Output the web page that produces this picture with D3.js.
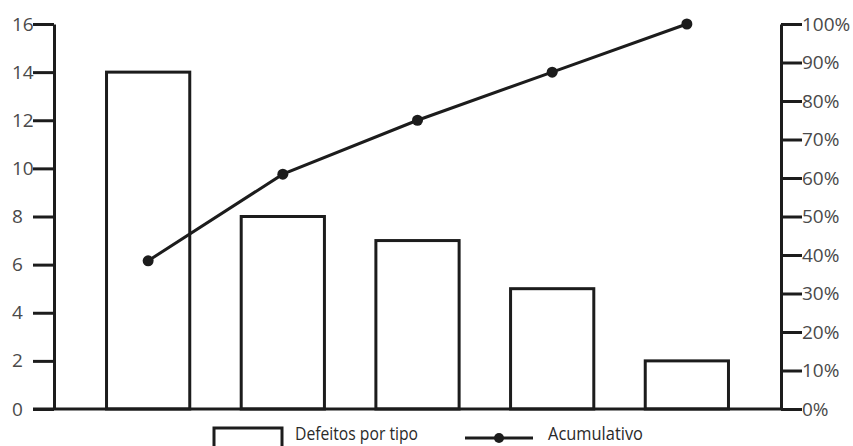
<!DOCTYPE html>
<html>
<head>
<meta charset="utf-8">
<script src="https://cdn.jsdelivr.net/npm/d3@7"></script>
<style>
  html, body { margin: 0; padding: 0; background: #fff; }
  svg { display: block; }
  text { font-family: "Open Sans", "DejaVu Sans", sans-serif; }
</style>
</head>
<body>
<svg id="chart" width="853" height="446"></svg>
<script>
// Pareto data: defects per type (bars) and cumulative share (line)
const categories = ["Tipo 1", "Tipo 2", "Tipo 3", "Tipo 4", "Tipo 5"];
const defectCounts = [14, 8, 7, 5, 2];
const cumulativePct = [38.5, 61, 75, 87.5, 100];
const leftTicks = [0, 2, 4, 6, 8, 10, 12, 14, 16];
const rightTicks = [0, 10, 20, 30, 40, 50, 60, 70, 80, 90, 100];
const legendLabels = ["Defeitos por tipo", "Acumulativo"];

const svg = d3.select("#chart");
const ink = "#1c1c1c";
const labelColor = "#4a4a4a";

const plot = { left: 54, right: 781, top: 24, bottom: 409 };

const x = d3.scaleBand()
  .domain(categories)
  .range([plot.left, plot.right])
  .paddingInner(0.382)
  .paddingOuter(0.39);

const yLeft = d3.scaleLinear().domain([0, 16]).range([plot.bottom, plot.top]);
const yRight = d3.scaleLinear().domain([0, 100]).range([plot.bottom, plot.top]);

// Bars (outlined, no fill)
svg.append("g")
  .selectAll("rect")
  .data(defectCounts)
  .join("rect")
  .attr("x", (d, i) => x(categories[i]))
  .attr("y", d => yLeft(d))
  .attr("width", x.bandwidth())
  .attr("height", d => yLeft(0) - yLeft(d))
  .attr("fill", "#fff")
  .attr("stroke", ink)
  .attr("stroke-width", 3);

// Left axis
const gLeft = svg.append("g")
  .attr("transform", `translate(${plot.left},0)`)
  .call(d3.axisLeft(yLeft).tickValues(leftTicks).tickSize(21).tickSizeOuter(0).tickPadding(0));
gLeft.select(".domain").attr("stroke", ink).attr("stroke-width", 3);
gLeft.selectAll(".tick line").attr("stroke", ink).attr("stroke-width", 3);
gLeft.selectAll(".tick text")
  .attr("x", -42)
  .attr("text-anchor", "start")
  .attr("fill", labelColor)
  .style("font-size", "19px");

// Right axis
const gRight = svg.append("g")
  .attr("transform", `translate(${plot.right},0)`)
  .call(d3.axisRight(yRight).tickValues(rightTicks).tickSize(21).tickSizeOuter(0).tickPadding(0)
    .tickFormat(d => d + "%"));
gRight.select(".domain").attr("stroke", ink).attr("stroke-width", 3);
gRight.selectAll(".tick line").attr("stroke", ink).attr("stroke-width", 3);
gRight.selectAll(".tick text")
  .attr("x", 21)
  .attr("fill", labelColor)
  .style("font-size", "19px");

// Baseline
svg.append("line")
  .attr("x1", 33).attr("x2", plot.right)
  .attr("y1", yLeft(0)).attr("y2", yLeft(0))
  .attr("stroke", ink).attr("stroke-width", 3);

// Cumulative line with markers
const cx = i => x(categories[i]) + x.bandwidth() / 2;
const line = d3.line()
  .x((d, i) => cx(i))
  .y(d => yRight(d));

svg.append("path")
  .datum(cumulativePct)
  .attr("d", line)
  .attr("fill", "none")
  .attr("stroke", ink)
  .attr("stroke-width", 3);

svg.append("g")
  .selectAll("circle")
  .data(cumulativePct)
  .join("circle")
  .attr("cx", (d, i) => cx(i))
  .attr("cy", d => yRight(d))
  .attr("r", 5.5)
  .attr("fill", ink);

// Legend
const legend = svg.append("g");
legend.append("rect")
  .attr("x", 214).attr("y", 428)
  .attr("width", 68).attr("height", 30)
  .attr("fill", "#fff")
  .attr("stroke", ink)
  .attr("stroke-width", 3);
legend.append("text")
  .attr("x", 295).attr("y", 440)
  .attr("fill", "#2a2a2a")
  .attr("textLength", 123)
  .attr("lengthAdjust", "spacingAndGlyphs")
  .style("font-size", "19px")
  .text(legendLabels[0]);

legend.append("line")
  .attr("x1", 465).attr("x2", 533)
  .attr("y1", 438).attr("y2", 438)
  .attr("stroke", ink).attr("stroke-width", 3);
legend.append("circle")
  .attr("cx", 499).attr("cy", 438).attr("r", 5)
  .attr("fill", ink);
legend.append("text")
  .attr("x", 548).attr("y", 440)
  .attr("fill", "#2a2a2a")
  .attr("textLength", 95)
  .attr("lengthAdjust", "spacingAndGlyphs")
  .style("font-size", "19px")
  .text(legendLabels[1]);
</script>
</body>
</html>
